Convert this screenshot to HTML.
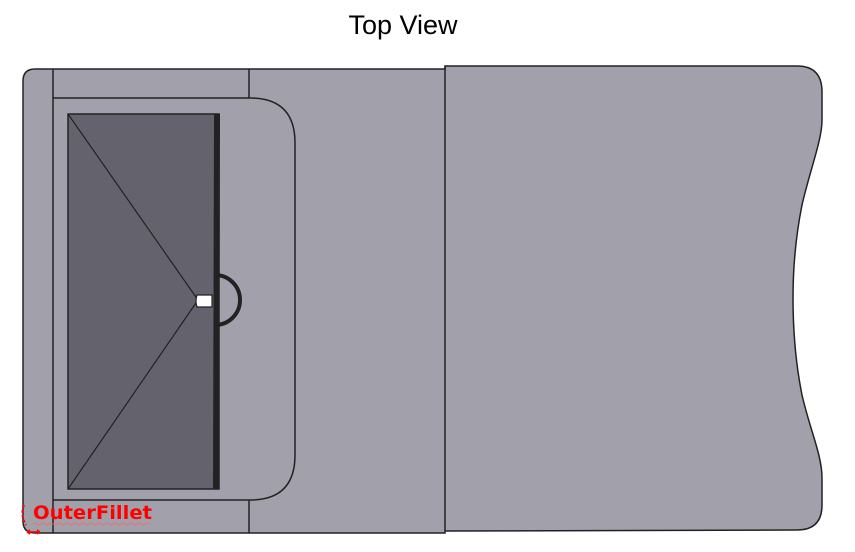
<!DOCTYPE html>
<html><head><meta charset="utf-8"><style>
body{margin:0;background:#fff;width:855px;height:547px;overflow:hidden}
</style></head><body>
<svg width="855" height="547" viewBox="0 0 855 547">
<text x="403" y="34" text-anchor="middle" font-family="Liberation Sans, sans-serif" font-size="27" fill="#000">Top View</text>
<path d="M35 69 L445 69 L445 66 L797 66 Q822 66 822 92 L822 120 C822 140 810 170 802 205 C795 240 793 270 793 298 C793 330 795 360 802 395 C810 430 822 455 822 478 L822 505 Q822 530 797 530 L445 531 L445 533 L35 533 Q23 533 23 521 L23 81 Q23 69 35 69 Z" fill="#a2a1ab" stroke="#222" stroke-width="1.5"/>
<line x1="445" y1="66" x2="445" y2="531" stroke="#222" stroke-width="1.5"/>
<line x1="53" y1="69" x2="53" y2="533" stroke="#222" stroke-width="1.5"/>
<line x1="249" y1="69" x2="249" y2="98" stroke="#222" stroke-width="1.5"/>
<line x1="249" y1="500" x2="249" y2="533" stroke="#222" stroke-width="1.5"/>
<path d="M53 98 L250 98 Q295 98 295 143 L295 455 Q295 500 250 500 L53 500" fill="none" stroke="#222" stroke-width="1.5"/>
<rect x="68" y="114" width="151" height="375" fill="#64636d" stroke="#222" stroke-width="1.5"/>
<line x1="68" y1="114" x2="198" y2="300" stroke="#222" stroke-width="1.2"/>
<line x1="68" y1="489" x2="198" y2="300" stroke="#222" stroke-width="1.2"/>
<path d="M215 275 A25 25 0 0 1 215 325" fill="none" stroke="#222" stroke-width="4"/>
<path d="M214 114 L220 114 L219 489 L213 489 Z" fill="#222"/>
<path d="M197 295 L212 295 L212 307 L197 307 Q195 301 197 295 Z" fill="#fff" stroke="#222" stroke-width="1.2"/>
<text x="33" y="519" font-family="DejaVu Sans, sans-serif" font-weight="bold" font-size="19" fill="#ff0000" textLength="119" lengthAdjust="spacingAndGlyphs">OuterFillet</text>
<path d="M33 524 q2 -2 4 0 t4 0 t4 0 t4 0 t4 0 t4 0 t4 0 t4 0 t4 0 t4 0 t4 0 t4 0 t4 0 t4 0 t4 0 t4 0 t4 0 t4 0 t4 0 t4 0 t4 0 t4 0 t4 0 t4 0 t4 0 t4 0 t4 0 t4 0 t4 0" fill="none" stroke="#ff6060" stroke-width="0.8"/>
<path d="M24 505 Q20 515 26 525" fill="none" stroke="#ff0000" stroke-width="2" stroke-dasharray="3 2"/>
<path d="M27 532 L40 532 M27 532 l3 -2 M27 532 l3 2 M40 532 l-3 -2 M40 532 l-3 2" stroke="#ff0000" stroke-width="1.5"/>
</svg>
</body></html>
